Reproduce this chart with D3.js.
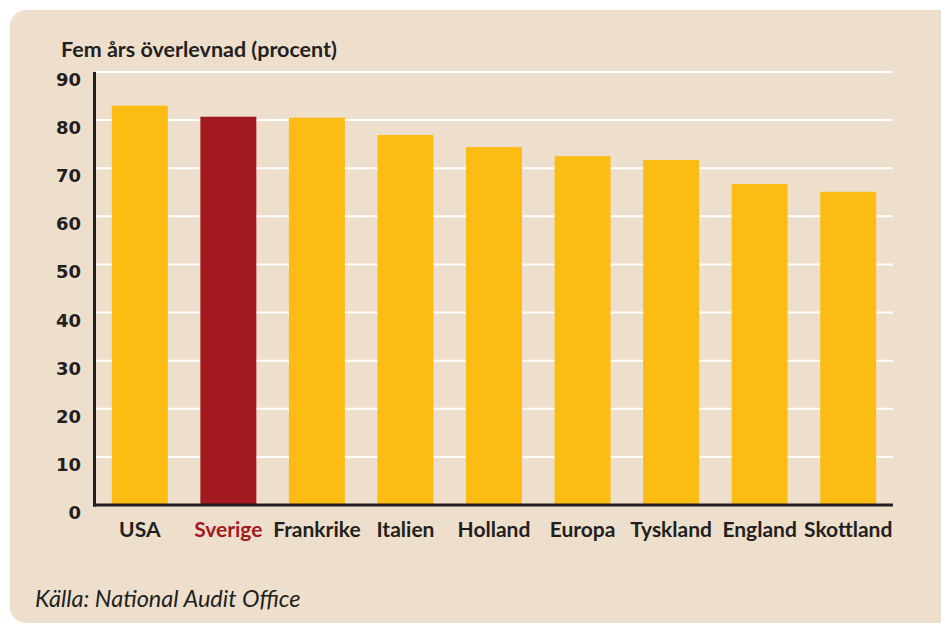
<!DOCTYPE html>
<html>
<head>
<meta charset="utf-8">
<script src="https://cdn.jsdelivr.net/npm/d3@7"></script>
<style>
  body { margin: 0; background: #fff; }
  svg { display: block; font-family: Lato, "Open Sans", sans-serif; }
</style>
</head>
<body>
<div id="chart"></div>
<script>
// data
var countries = ["USA", "Sverige", "Frankrike", "Italien", "Holland", "Europa", "Tyskland", "England", "Skottland"];
var survival = [83.0, 80.7, 80.5, 76.9, 74.4, 72.5, 71.7, 66.7, 65.1];
var yTicks = [0, 10, 20, 30, 40, 50, 60, 70, 80, 90];
var highlight = "Sverige";

(() => {
    var width = 941;
    var height = 625;

    var svg = d3.select("#chart")
        .append("svg")
        .attr("width", width)
        .attr("height", height);

    // beige panel
    svg.append("rect")
        .attr("x", 10)
        .attr("y", 10)
        .attr("width", 960)
        .attr("height", 613)
        .attr("rx", 16)
        .attr("fill", "#eddfcc");

    var left = 95, right = 893, top = 72, bottom = 505;

    var xScale = d3.scaleBand()
        .domain(countries)
        .range([left, right])
        .paddingInner(0.368)
        .paddingOuter(0.19);

    var yScale = d3.scaleLinear()
        .domain([0, 90])
        .range([bottom, top]);

    // white grid lines
    svg.selectAll(".grid")
        .data(yTicks.filter(function (d) { return d > 0; }))
        .join("line")
        .attr("class", "grid")
        .attr("x1", left)
        .attr("x2", right)
        .attr("y1", function (d) { return yScale(d); })
        .attr("y2", function (d) { return yScale(d); })
        .attr("stroke", "#ffffff")
        .attr("stroke-width", 2);

    var data = countries.map(function (c, i) {
        return { land: c, value: survival[i] };
    });

    svg.selectAll(".bar")
        .data(data)
        .join("rect")
        .attr("class", "bar")
        .attr("x", function (d) { return xScale(d.land); })
        .attr("y", function (d) { return yScale(d.value); })
        .attr("width", xScale.bandwidth())
        .attr("height", function (d) { return yScale(0) - yScale(d.value); })
        .style("fill", function (d) { return d.land === highlight ? "#a2191f" : "#fcbc14"; });

    // axis lines
    svg.append("line")
        .attr("x1", 94.5).attr("x2", 94.5)
        .attr("y1", top).attr("y2", bottom + 1.5)
        .attr("stroke", "#231f20")
        .attr("stroke-width", 3);

    svg.append("line")
        .attr("x1", 93).attr("x2", right)
        .attr("y1", bottom).attr("y2", bottom)
        .attr("stroke", "#231f20")
        .attr("stroke-width", 3);

    // y tick labels (sit just below their grid line)
    svg.selectAll(".ytick")
        .data(yTicks)
        .join("text")
        .attr("class", "ytick")
        .attr("x", 81)
        .attr("y", function (d) { return yScale(d) + 14; })
        .attr("text-anchor", "end")
        .attr("font-family", "'DejaVu Sans', sans-serif")
        .attr("font-size", "18px")
        .attr("font-weight", "bold")
        .attr("fill", "#231f20")
        .text(function (d) { return d; });

    // category labels
    svg.selectAll(".xlabel")
        .data(countries)
        .join("text")
        .attr("class", "xlabel")
        .attr("x", function (d) { return xScale(d) + xScale.bandwidth() / 2; })
        .attr("y", 537)
        .attr("text-anchor", "middle")
        .attr("font-size", "21px")
        .attr("font-weight", "bold")
        .attr("fill", function (d) { return d === highlight ? "#a2191f" : "#231f20"; })
        .text(function (d) { return d; });

    // title
    svg.append("text")
        .attr("x", 61)
        .attr("y", 57)
        .attr("font-size", "21.5px")
        .attr("font-weight", "bold")
        .attr("fill", "#231f20")
        .text("Fem års överlevnad (procent)");

    // source
    svg.append("text")
        .attr("x", 35)
        .attr("y", 607)
        .attr("font-size", "23.5px")
        .attr("font-style", "italic")
        .attr("fill", "#231f20")
        .text("Källa: National Audit Office");
})();
</script>
</body>
</html>
